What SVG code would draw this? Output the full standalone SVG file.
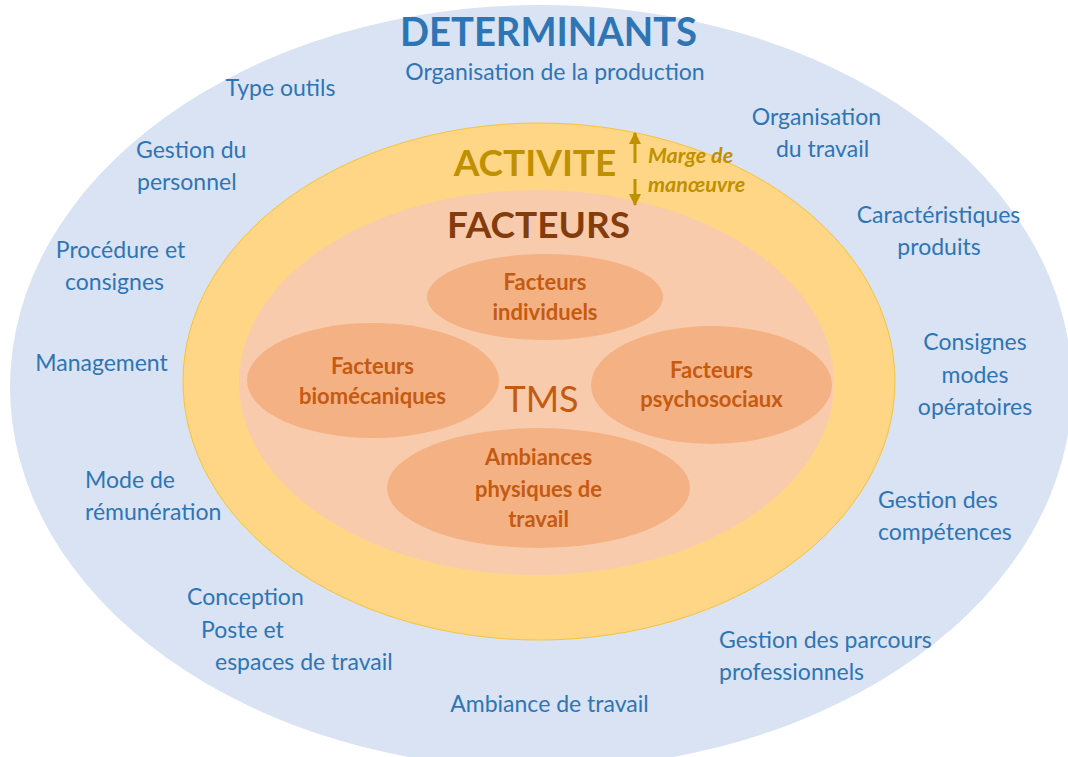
<svg xmlns="http://www.w3.org/2000/svg" width="1068" height="757" viewBox="0 0 1068 757">
<defs>
<style>
.blue{font-family:Lato,"Liberation Sans",sans-serif;font-size:23px;fill:#2E75B6}
.mid{text-anchor:middle}
.inner{font-family:Lato,"Liberation Sans",sans-serif;font-size:22px;font-weight:bold;fill:#C55A11;text-anchor:middle}
.oval{fill:#F4B183}
.marge{font-family:Lato,"Liberation Sans",sans-serif;font-weight:bold;font-style:italic;font-size:21.5px;fill:#BF9000}
</style>
<marker id="ah" viewBox="0 0 12 12" refX="11" refY="6" markerWidth="4.3" markerHeight="4" orient="auto-start-reverse" markerUnits="strokeWidth">
<path d="M0,0 L12,6 L0,12 z" fill="#BF9000"/>
</marker>
</defs>
<rect width="1068" height="757" fill="#FFFFFF"/>
<g id="determinants">
<ellipse cx="541" cy="387" rx="531" ry="382" fill="#DAE3F3"/>
<text x="548.5" y="46" text-anchor="middle" font-family="Lato,'Liberation Sans',sans-serif" font-weight="bold" font-size="40" textLength="297" lengthAdjust="spacingAndGlyphs" fill="#2E75B6">DETERMINANTS</text>
</g>
<g id="labels">
<text class="blue mid" x="280.5" y="96">Type outils</text>
<text class="blue mid" x="555" y="80">Organisation de la production</text>
<text class="blue mid" x="816.5" y="125">Organisation</text>
<text class="blue mid" x="822.5" y="157">du travail</text>
<text class="blue" x="136" y="158">Gestion du</text>
<text class="blue" x="137" y="190">personnel</text>
<text class="blue mid" x="120.5" y="258">Procédure et</text>
<text class="blue mid" x="114.5" y="290">consignes</text>
<text class="blue mid" x="101.5" y="371">Management</text>
<text class="blue" x="85" y="488">Mode de</text>
<text class="blue" x="85" y="520">rémunération</text>
<text class="blue" x="187" y="605">Conception</text>
<text class="blue" x="201" y="638">Poste et</text>
<text class="blue" x="215" y="670">espaces de travail</text>
<text class="blue mid" x="549.5" y="712">Ambiance de travail</text>
<text class="blue" x="719" y="648">Gestion des parcours</text>
<text class="blue" x="719" y="680">professionnels</text>
<text class="blue" x="878" y="508">Gestion des</text>
<text class="blue" x="878" y="540">compétences</text>
<text class="blue mid" x="975" y="350">Consignes</text>
<text class="blue mid" x="975" y="383">modes</text>
<text class="blue mid" x="975" y="415">opératoires</text>
<text class="blue mid" x="938.5" y="223">Caractéristiques</text>
<text class="blue mid" x="939" y="255">produits</text>
</g>
<g id="activite">
<ellipse cx="539" cy="381.5" rx="356" ry="258.5" fill="#FED685" stroke="#F8C33A" stroke-width="1"/>
<text x="535" y="176" text-anchor="middle" font-family="Lato,'Liberation Sans',sans-serif" font-weight="bold" font-size="37" fill="#BF9000">ACTIVITE</text>
<text class="marge" x="648" y="163">Marge de</text>
<text class="marge" x="648" y="192">manœuvre</text>
</g>
<g id="facteurs">
<ellipse cx="536.5" cy="382.5" rx="297.5" ry="192.5" fill="#F8CBAD"/>
<text x="538.5" y="238" text-anchor="middle" font-family="Lato,'Liberation Sans',sans-serif" font-weight="bold" font-size="37" fill="#843C0C">FACTEURS</text>
</g>
<g id="tms">
<text x="541.5" y="412" text-anchor="middle" font-family="Lato,'Liberation Sans',sans-serif" font-size="36" fill="#C55A11">TMS</text>
</g>
<g id="facteurs-individuels">
<ellipse class="oval" cx="545" cy="297" rx="118" ry="43"/>
<text class="inner" x="545" y="290">Facteurs</text>
<text class="inner" x="545" y="320">individuels</text>
</g>
<g id="facteurs-biomecaniques">
<ellipse class="oval" cx="373" cy="380.5" rx="126" ry="57.5"/>
<text class="inner" x="372.5" y="374">Facteurs</text>
<text class="inner" x="372.5" y="404">biomécaniques</text>
</g>
<g id="facteurs-psychosociaux">
<ellipse class="oval" cx="711.5" cy="385" rx="120.5" ry="59"/>
<text class="inner" x="711.5" y="378">Facteurs</text>
<text class="inner" x="711.5" y="407">psychosociaux</text>
</g>
<g id="ambiances-physiques">
<ellipse class="oval" cx="538.5" cy="488" rx="151.5" ry="60"/>
<text class="inner" x="538.5" y="465">Ambiances</text>
<text class="inner" x="538.5" y="497">physiques de</text>
<text class="inner" x="538.5" y="527">travail</text>
</g>
<g id="connectors">
<line x1="635" y1="163" x2="635" y2="133" stroke="#BF9000" stroke-width="3" marker-end="url(#ah)"/>
<line x1="635" y1="179" x2="635" y2="205" stroke="#BF9000" stroke-width="3" marker-end="url(#ah)"/>
</g>
</svg>
